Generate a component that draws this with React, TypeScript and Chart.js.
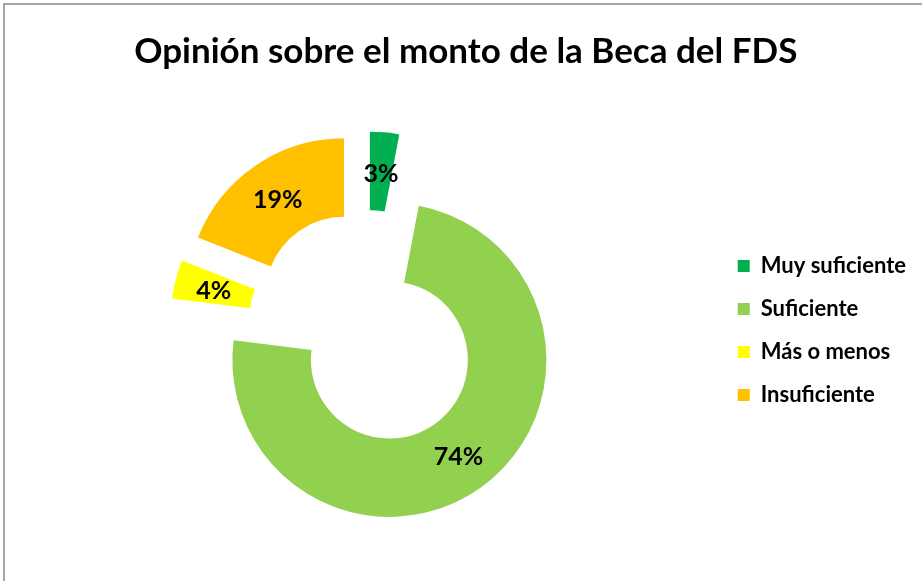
import React, { useEffect, useRef } from "react";
import { Chart, registerables } from "chart.js";

Chart.register(...registerables);

const categories = ["Muy suficiente", "Suficiente", "Más o menos", "Insuficiente"];
const values = [3, 74, 4, 19];
const percentLabels = ["3%", "74%", "4%", "19%"];
const colors = ["#00B050", "#92D050", "#FFFF00", "#FFC000"];
const chartTitle = "Opinión sobre el monto de la Beca del FDS";

const FONT = "Lato, 'DejaVu Sans', sans-serif";
const EXPLODE = 39.5; // px each slice is pulled out from the centre

// Explode every slice by moving its centre along its mid angle
const explode = {
  id: "explode",
  afterDatasetUpdate(chart: any, args: any) {
    args.meta.data.forEach((arc: any) => {
      const mid = (arc.startAngle + arc.endAngle) / 2;
      arc.x += Math.cos(mid) * EXPLODE;
      arc.y += Math.sin(mid) * EXPLODE;
    });
  },
};

const sliceLabels = {
  id: "sliceLabels",
  afterDatasetsDraw(chart: any) {
    const ctx = chart.ctx;
    const meta = chart.getDatasetMeta(0);
    ctx.save();
    ctx.font = `bold 25px ${FONT}`;
    ctx.fillStyle = "#000";
    ctx.textAlign = "center";
    ctx.textBaseline = "middle";
    meta.data.forEach((arc: any, i: number) => {
      const mid = (arc.startAngle + arc.endAngle) / 2;
      const r = (arc.innerRadius + arc.outerRadius) / 2;
      const x = arc.x + Math.cos(mid) * r;
      const y = arc.y + Math.sin(mid) * r + 2;
      ctx.fillText(percentLabels[i], x, y);
    });
    ctx.restore();
  },
};

export default function App() {
  const ref = useRef<HTMLCanvasElement | null>(null);
  useEffect(() => {
    if (!ref.current) return;
    const chart = new Chart(ref.current, {
      type: "doughnut",
      data: {
        labels: categories,
        datasets: [
          {
            data: values,
            backgroundColor: colors,
            borderWidth: 0,
            offset: 0,
            hoverOffset: 0,
          },
        ],
      },
      options: {
        responsive: false,
        animation: false,
        events: [],
        radius: 157,
        cutout: "50%",
        layout: { padding: { left: 15.6, right: 6, top: 0, bottom: 4 } },
        plugins: {
          title: {
            display: true,
            text: chartTitle,
            color: "#000",
            font: { family: FONT, size: 35, weight: "bold", lineHeight: 1.2 },
            padding: { top: 31, bottom: 6 },
          },
          legend: {
            position: "right",
            fullSize: false,
            align: "center",
            title: {
              display: true,
              text: "",
              font: { size: 5, lineHeight: 1 },
              padding: 0,
            },
            labels: {
              boxWidth: 12,
              boxHeight: 12,
              padding: 21,
              color: "#000",
              font: { family: FONT, size: 22, weight: "bold" },
            },
          },
          tooltip: { enabled: false },
        },
      } as any,
      plugins: [explode, sliceLabels],
    });
    return () => chart.destroy();
  }, []);

  return (
    <div style={{ position: "absolute", left: 0, top: 0, width: 922, height: 581, background: "#fff", overflow: "hidden" }}>
      <div
        style={{
          position: "absolute",
          left: 3,
          top: 3,
          width: 930,
          height: 590,
          borderLeft: "2px solid #a6a6a6",
          borderTop: "2px solid #a6a6a6",
        }}
      />
      <canvas ref={ref} width={922} height={581} style={{ position: "absolute", left: 0, top: 0 }} />
    </div>
  );
}
